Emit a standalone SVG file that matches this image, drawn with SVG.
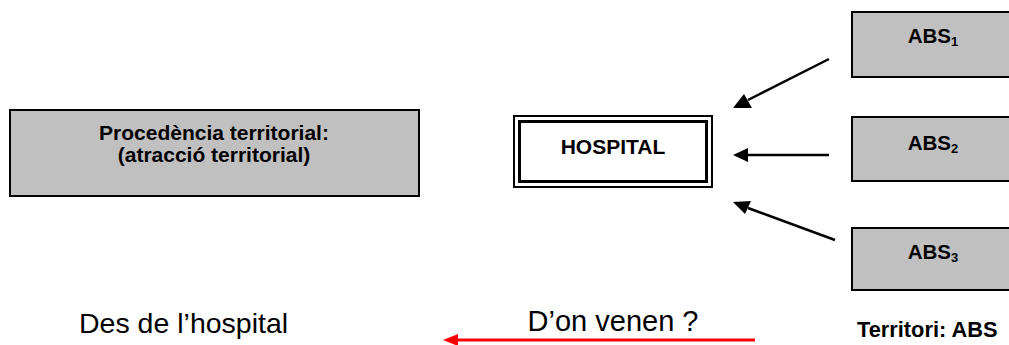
<svg xmlns="http://www.w3.org/2000/svg" width="1009" height="345" viewBox="0 0 1009 345">
<style>
.box{fill:#c0c0c0;stroke:#000;stroke-width:2}
.b{font-family:"Liberation Sans",Arial,sans-serif;font-weight:bold;fill:#000}
.r{font-family:"Liberation Sans",Arial,sans-serif;fill:#000}
.conn{stroke:#000;stroke-width:2.5;fill:none}
</style>
<rect width="1009" height="345" fill="#fff"/>
<g id="procedencia">
<rect class="box" x="10" y="110" width="409" height="86"/>
<text class="b" font-size="21" x="214" y="140" text-anchor="middle">Procedència territorial:</text>
<text class="b" font-size="21" x="214" y="162" text-anchor="middle">(atracció territorial)</text>
</g>
<g id="hospital">
<rect x="514" y="116" width="198" height="71" fill="#fff" stroke="#000" stroke-width="2"/>
<rect x="519.5" y="121.5" width="187" height="60" fill="none" stroke="#000" stroke-width="3"/>
<text class="b" font-size="21" x="613" y="154" text-anchor="middle">HOSPITAL</text>
</g>
<g id="abs1">
<rect class="box" x="852" y="12" width="170" height="65"/>
<text class="b" font-size="20.5" x="933" y="43" text-anchor="middle">ABS<tspan font-size="13" dy="3">1</tspan></text>
</g>
<g id="abs2">
<rect class="box" x="852" y="117" width="170" height="64"/>
<text class="b" font-size="20.5" x="933" y="150" text-anchor="middle">ABS<tspan font-size="13" dy="3">2</tspan></text>
</g>
<g id="abs3">
<rect class="box" x="852" y="228" width="170" height="62"/>
<text class="b" font-size="20.5" x="933" y="259" text-anchor="middle">ABS<tspan font-size="13" dy="3">3</tspan></text>
</g>
<g id="connectors">
<line class="conn" x1="829" y1="59" x2="748" y2="100"/>
<path d="M733,108 L744,94 L752,108 z" fill="#000"/>
<line class="conn" x1="829" y1="155" x2="748" y2="155"/>
<path d="M733,155 L748,148 L748,162 z" fill="#000"/>
<line class="conn" x1="835" y1="240" x2="748" y2="208"/>
<path d="M733,202 L751,201 L745,214 z" fill="#000"/>
<line x1="755" y1="340" x2="455" y2="340" stroke="#f00" stroke-width="3"/>
<path d="M443,340 L458,334 L458,346 z" fill="#f00"/>
</g>
<text class="r" font-size="29" x="613" y="331" text-anchor="middle">D’on venen ?</text>
<text class="r" font-size="28.5" x="79" y="333">Des de l’hospital</text>
<text class="b" font-size="21.8" x="857" y="337">Territori: ABS</text>
</svg>
